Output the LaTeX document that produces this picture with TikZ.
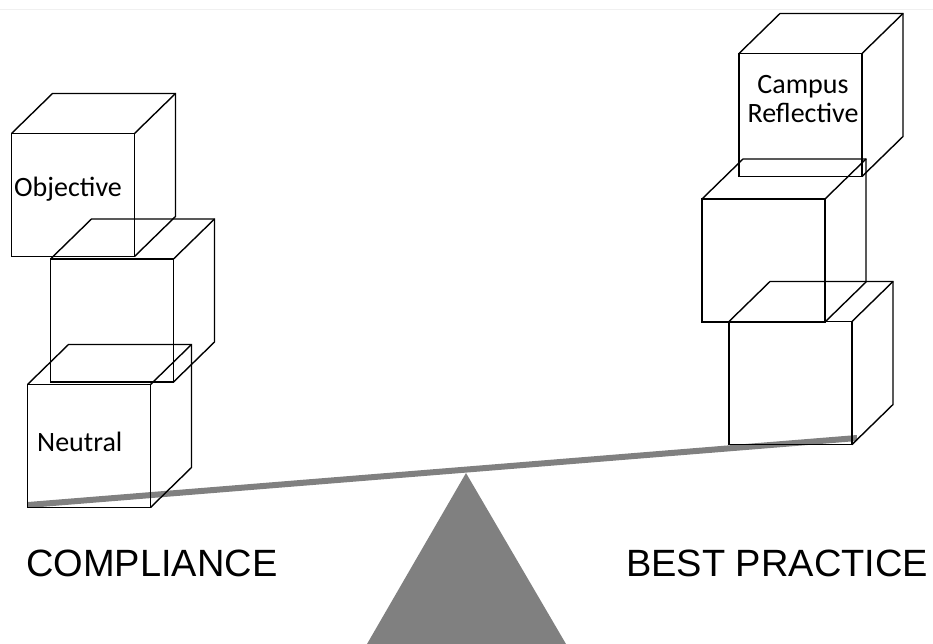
\documentclass[tikz,border=0pt]{standalone}
\usepackage{fontspec}
\newfontfamily\carlito{Carlito}
\newfontfamily\arialish{Liberation Sans}
\definecolor{beamgray}{RGB}{128,128,128}

\tikzset{
  face/.style={shape=rectangle,draw=black,line width=1.4pt,minimum width=123pt,minimum height=123pt,inner sep=0pt,outer sep=0pt},
  word/.style={inner sep=0pt,font=\carlito\fontsize{28}{29}\selectfont},
  side/.style={inner sep=0pt,font=\arialish\fontsize{38}{40}\selectfont},
}
\newcommand{\cubeback}[1]{%
  \draw[line width=1.4pt] (#1.north west) -- ++(41,-40) -- ++(123,0) -- ++(0,123) -- (#1.south east);
  \draw[line width=1.4pt] (#1.north east) -- ++(41,-40);}

\begin{document}
\begin{tikzpicture}[x=1pt,y=-1pt]
    \useasboundingbox (0,0) rectangle (933,644);
    \draw[gray!12,line width=1pt] (0,10) -- (933,10);

    % seesaw
    \coordinate (beamL) at (28,505);
    \coordinate (beamR) at (857,438);
    \coordinate (apex) at (466,473);
    \fill[beamgray] (367,644) -- (apex) -- (566,644) -- cycle;
    \draw[beamgray,line width=6pt] (beamL) -- (beamR);

    % left stack
    \node[face] (L1) at (73,195) {};
    \node[face] (L2) at (112,320.5) {};
    \node[face] (L3) at (89,446) {};
    \cubeback{L1}
    \cubeback{L2}
    \cubeback{L3}

    % right stack
    \node[face] (R1) at (800.5,115) {};
    \node[face] (R2) at (763.5,260.5) {};
    \node[face] (R3) at (790.5,383) {};
    \cubeback{R1}
    \cubeback{R2}
    \cubeback{R3}

    \node[word,anchor=base west] (obj) at (14,197) {Objective};
    \node[word,anchor=base west] (neu) at (37,451) {Neutral};
    \node[word,align=center] (camp) at (803,99.5) {Campus\\Reflective};

    \node[side,anchor=base west] (comp) at (26,576) {COMPLIANCE};
    \node[side,anchor=base west] (best) at (626,576) {BEST PRACTICE};

\end{tikzpicture}
\end{document}
